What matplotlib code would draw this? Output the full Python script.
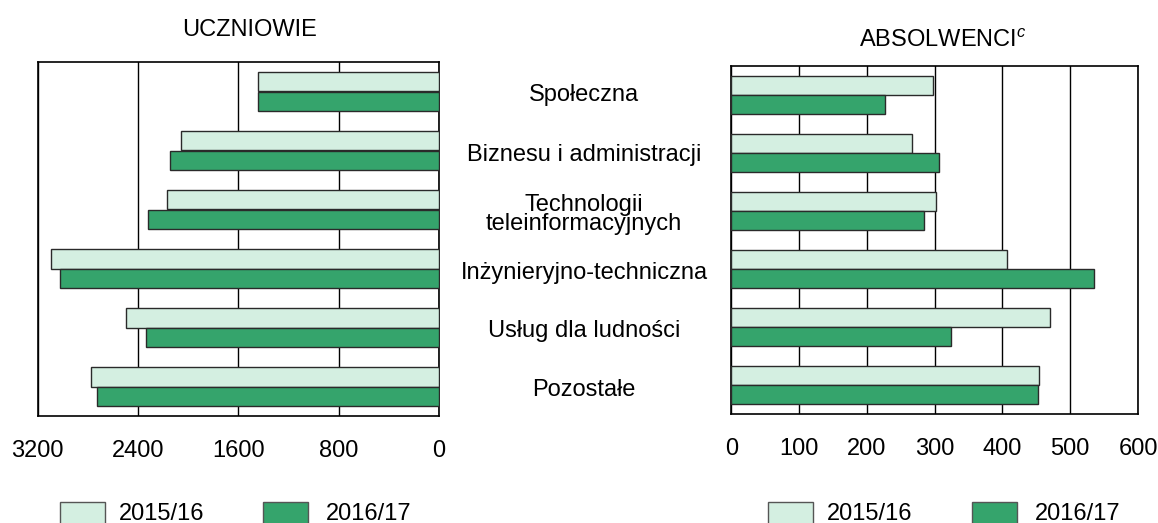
import matplotlib
matplotlib.use('Agg')
from matplotlib import pyplot as plt
from matplotlib.patches import Rectangle
import numpy as np

plt.rcParams['font.family'] = ['Liberation Sans', 'DejaVu Sans']
plt.rcParams['mathtext.fontset'] = 'custom'
plt.rcParams['mathtext.it'] = 'Liberation Sans:italic'
plt.rcParams['mathtext.rm'] = 'Liberation Sans'

categories = ['Społeczna', 'Biznesu i administracji', 'Technologii\nteleinformacyjnych',
              'Inżynieryjno-techniczna', 'Usług dla ludności', 'Pozostałe']
years = ['2015/16', '2016/17']
uczniowie_1516 = [1445, 2058, 2167, 3092, 2491, 2770]
uczniowie_1617 = [1440, 2143, 2316, 3020, 2332, 2725]
absolwenci_1516 = [298, 266, 302, 406, 470, 454]
absolwenci_1617 = [227, 306, 284, 535, 324, 453]
ticks_left = [3200, 2400, 1600, 800, 0]
ticks_right = [0, 100, 200, 300, 400, 500, 600]

light = '#d4efe1'
dark = '#35a46c'
edge = '#2a2a2a'
fs = 17

W, H = 1158, 523
fig = plt.figure(figsize=(W / 100, H / 100), dpi=100)

def px(x0, y0, x1, y1):
    return [x0 / W, 1 - y1 / H, (x1 - x0) / W, (y1 - y0) / H]

axL = fig.add_axes(px(37.5, 62, 439, 416))
axR = fig.add_axes(px(731.3, 66, 1138, 414.3))

y = np.arange(len(categories))
h = 0.33

def draw(ax, v1, v2, lim, ticks):
    ax.barh(y - h / 2, v1, height=h, color=light, edgecolor=edge, linewidth=1, zorder=3)
    ax.barh(y + h / 2, v2, height=h, color=dark, edgecolor=edge, linewidth=1, zorder=3)
    ax.set_xlim(*lim)
    ax.set_ylim(len(categories) - 0.5, -0.5)
    ax.set_xticks(ticks)
    ax.set_xticklabels([str(t) for t in ticks], fontsize=fs)
    ax.tick_params(axis='x', length=0, pad=17)
    ax.set_yticks([])
    ax.grid(axis='x', color='black', linewidth=1, zorder=0)
    ax.set_axisbelow(True)
    for s in ax.spines.values():
        s.set_linewidth(1.2)
        s.set_color('black')

draw(axL, uczniowie_1516, uczniowie_1617, (3200, 0), ticks_left)
draw(axR, absolwenci_1516, absolwenci_1617, (0, 600), ticks_right)

# category labels between the panels
for i, cat in enumerate(categories):
    yy = axL.transData.transform((0, i))[1] - 4
    if '\n' in cat:
        yy -= 1
    fig.text(584 / W, yy / H, cat, ha='center', va='center', fontsize=fs, linespacing=0.85)

fig.text(249.5 / W, 1 - 30 / H, 'UCZNIOWIE', ha='center', va='center', fontsize=fs)
fig.text(859 / W, 1 - 41 / H, r'ABSOLWENCI$^{c}$', ha='left', va='center', fontsize=fs)

# legends
def legend(xs, xt):
    for x0, xtxt, col, lab in zip(xs, xt, [light, dark], years):
        fig.patches.append(Rectangle((x0 / W, 1 - 535 / H), 45 / W, 33.3 / H,
                                     transform=fig.transFigure, facecolor=col,
                                     edgecolor='#555555', linewidth=1))
        fig.text(xtxt / W, 1 - 520 / H, lab, ha='left', va='baseline', fontsize=fs)

legend([60, 263], [119, 326])
legend([768, 972], [827, 1035])

fig.savefig('out.png', dpi=100)
